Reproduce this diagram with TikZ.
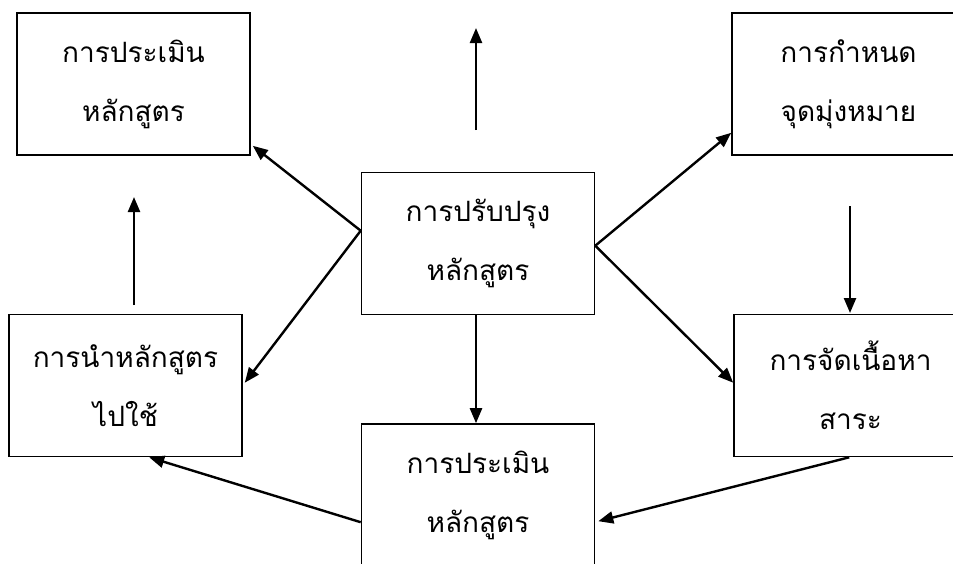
\documentclass[tikz,border=0pt]{standalone}
\usepackage{fontspec}
\newfontfamily\thaifont[Script=Thai]{Loma}
\usetikzlibrary{arrows.meta,calc}
\tikzset{
  boxnode/.style={draw=black, line width=1.6pt, minimum width=233pt, minimum height=142pt,
    inner sep=0pt, align=center, font=\thaifont\fontsize{28}{59}\selectfont},
  arr/.style={line width=2.4pt, -{Triangle[length=15pt,width=12pt]}}
}
\begin{document}
\begin{tikzpicture}[x=1pt,y=-1pt]
\useasboundingbox (0,0) rectangle (953,563);
\clip (0,0) rectangle (953,563);
\fill[white] (0,0) rectangle (953,563);
\node[boxnode] (TL) at (133.5,84) {การประเมิน\\หลักสูตร};
\node[boxnode] (TR) at (848.5,84) {การกำหนด\\จุดมุ่งหมาย};
\node[boxnode] (C) at (478,243.5) {การปรับปรุง\\หลักสูตร};
\node[boxnode] (L) at (125.5,385.5) {การนำหลักสูตร\\ไปใช้};
\node[boxnode] (R) at (850.5,385.5) {การจัดเนื้อหา\\สาระ};
\node[boxnode] (B) at (478,495) {การประเมิน\\หลักสูตร};
\coordinate (ua0) at (476,130);
\coordinate (ua1) at (476,28);
\coordinate (la0) at (134,305);
\coordinate (la1) at (134,197);
\coordinate (ra0) at (850,206);
\coordinate (ra1) at (850,313);
\draw[arr] (ua0) -- (ua1);
\draw[arr] (la0) -- (la1);
\draw[arr] (ra0) -- (ra1);
\draw[arr] ($(C.north west)+(0,59)$) -- ($(TL.south east)+(2,-10)$);
\draw[arr] ($(C.north west)+(0,59)$) -- ($(L.north east)+(2,69)$);
\draw[arr] ($(C.north east)+(0,74)$) -- ($(TR.south west)+(0,-23)$);
\draw[arr] ($(C.north east)+(0,74)$) -- ($(R.north west)+(0,69)$);
\draw[arr] (C.south -| 476,0) -- (B.north -| 476,0);
\draw[arr] ($(R.south west)+(116,0)$) -- ($(B.north east)+(3,98)$);
\draw[arr] ($(B.north west)+(0,99)$) -- ($(L.south west)+(141,0)$);
\end{tikzpicture}
\end{document}
